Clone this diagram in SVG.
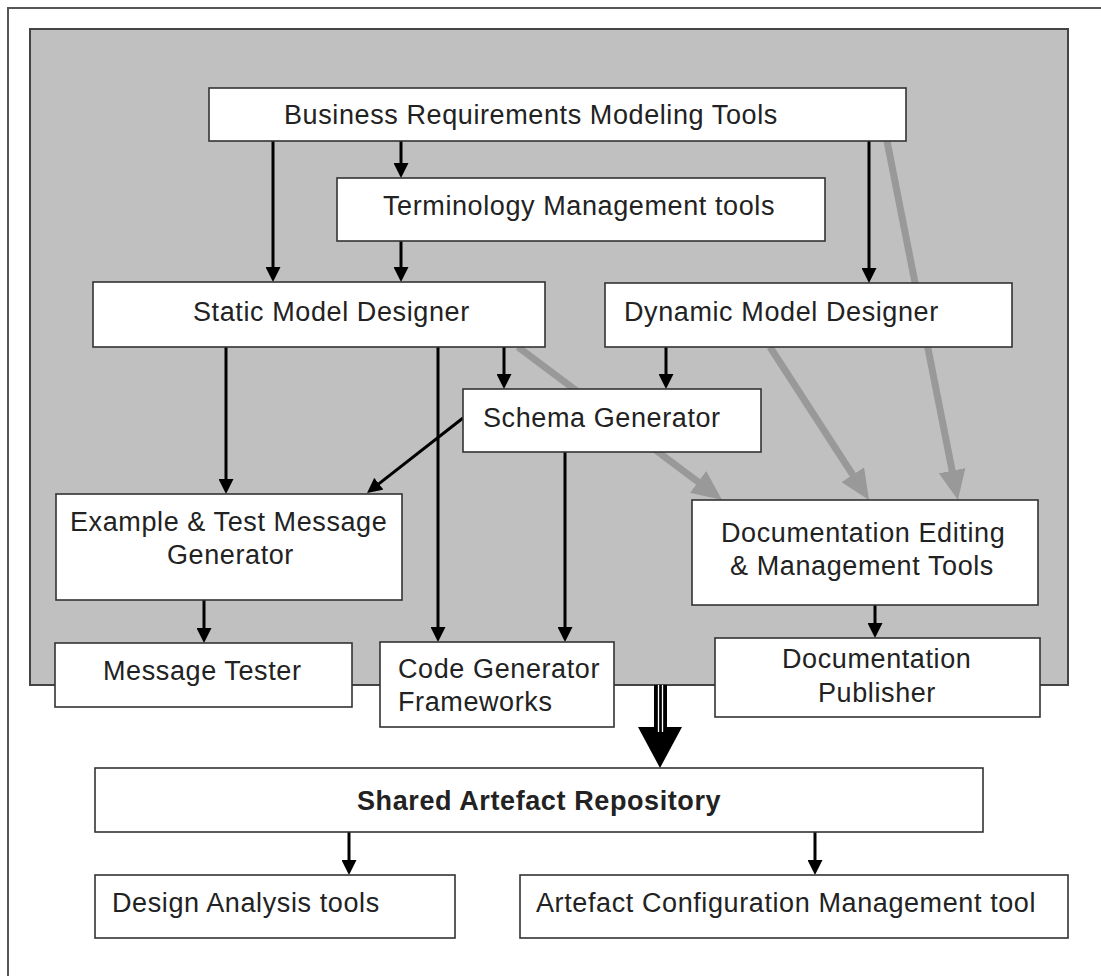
<svg xmlns="http://www.w3.org/2000/svg" width="1101" height="976" viewBox="0 0 1101 976">
<defs>
<style>
.box{fill:#fff;stroke:#333;stroke-width:1.6}
.t{font-family:"Liberation Sans",Arial,sans-serif;font-size:27px;letter-spacing:0.6px;fill:#222}
.b{font-weight:bold}
.a{fill:none;stroke:#000;stroke-width:3;marker-end:url(#ah)}
.g{fill:none;stroke:#999;stroke-width:7;marker-end:url(#gh)}
</style>
<marker id="ah" viewBox="0 0 15 15" refX="3" refY="7.5" markerWidth="15" markerHeight="15" markerUnits="userSpaceOnUse" orient="auto">
<path d="M0,0 L15,7.5 L0,15 z" fill="#000"/>
</marker>
<marker id="gh" viewBox="0 0 30 27" refX="6" refY="13.5" markerWidth="30" markerHeight="27" markerUnits="userSpaceOnUse" orient="auto">
<path d="M0,0 L30,13.5 L0,27 z" fill="#999"/>
</marker>
</defs>
<rect x="0" y="0" width="1101" height="976" fill="#fff"/>
<rect x="8" y="8" width="1300" height="1300" fill="none" stroke="#555" stroke-width="2"/>
<rect id="panel" x="30" y="29" width="1038" height="656" fill="#c0c0c0" stroke="#444" stroke-width="2"/>

<g id="connectors">
<line class="g" x1="518" y1="347" x2="702.9" y2="485.5"/>
<line class="g" x1="770" y1="347" x2="856" y2="479.8"/>
<line class="g" x1="887" y1="141" x2="953.3" y2="476.5"/>
<line class="a" x1="273" y1="141" x2="273" y2="270"/>
<line class="a" x1="401" y1="141" x2="401" y2="166"/>
<line class="a" x1="401" y1="241" x2="401" y2="270"/>
<line class="a" x1="869" y1="141" x2="869" y2="271"/>
<line class="a" x1="226" y1="347" x2="226" y2="482"/>
<line class="a" x1="438" y1="347" x2="438" y2="630"/>
<line class="a" x1="504" y1="347" x2="504" y2="377"/>
<line class="a" x1="666" y1="347" x2="666" y2="377"/>
<line class="a" x1="463" y1="418" x2="376.5" y2="485.6"/>
<line class="a" x1="565" y1="452" x2="565" y2="630"/>
<line class="a" x1="204" y1="600" x2="204" y2="631"/>
<line class="a" x1="875" y1="605" x2="875" y2="626"/>
<line class="a" x1="349" y1="832" x2="349" y2="863"/>
<line class="a" x1="815" y1="832" x2="815" y2="863"/>
<g id="bigarrow">
<rect x="654" y="685" width="13" height="43" fill="#000"/>
<line x1="658.5" y1="685" x2="658.5" y2="732" stroke="#fff" stroke-width="1.3"/>
<line x1="662.5" y1="685" x2="662.5" y2="732" stroke="#fff" stroke-width="1.3"/>
<path d="M638,727 L682,727 L660,768 z" fill="#000"/>
<line x1="658.5" y1="727" x2="658.5" y2="732" stroke="#fff" stroke-width="1.3"/>
<line x1="662.5" y1="727" x2="662.5" y2="732" stroke="#fff" stroke-width="1.3"/>
</g>
</g>

<g id="business">
<rect class="box" x="209" y="88" width="697" height="53"/>
<text class="t" x="284" y="124">Business Requirements Modeling Tools</text>
</g>
<g id="terminology">
<rect class="box" x="337" y="178" width="488" height="63"/>
<text class="t" x="383" y="215">Terminology Management tools</text>
</g>
<g id="static">
<rect class="box" x="93" y="282" width="452" height="65"/>
<text class="t" x="193" y="321">Static Model Designer</text>
</g>
<g id="dynamic">
<rect class="box" x="605" y="283" width="407" height="64"/>
<text class="t" x="624" y="321">Dynamic Model Designer</text>
</g>
<g id="schema">
<rect class="box" x="463" y="389" width="298" height="63"/>
<text class="t" x="483" y="427">Schema Generator</text>
</g>
<g id="example">
<rect class="box" x="56" y="494" width="346" height="106"/>
<text class="t" x="70" y="531">Example &amp; Test Message</text>
<text class="t" x="167" y="564">Generator</text>
</g>
<g id="docedit">
<rect class="box" x="692" y="500" width="346" height="105"/>
<text class="t" x="721" y="542">Documentation Editing</text>
<text class="t" x="730" y="575">&amp; Management Tools</text>
</g>
<g id="tester">
<rect class="box" x="55" y="643" width="297" height="64"/>
<text class="t" x="103" y="680">Message Tester</text>
</g>
<g id="codegen">
<rect class="box" x="380" y="642" width="234" height="85"/>
<text class="t" x="398" y="678">Code Generator</text>
<text class="t" x="398" y="711">Frameworks</text>
</g>
<g id="publisher">
<rect class="box" x="715" y="638" width="325" height="79"/>
<text class="t" x="782" y="668">Documentation</text>
<text class="t" x="818" y="702">Publisher</text>
</g>
<g id="repository">
<rect class="box" x="95" y="768" width="888" height="64"/>
<text class="t b" x="357" y="810">Shared Artefact Repository</text>
</g>
<g id="design">
<rect class="box" x="95" y="875" width="360" height="63"/>
<text class="t" x="112" y="912">Design Analysis tools</text>
</g>
<g id="artefact">
<rect class="box" x="520" y="875" width="548" height="63"/>
<text class="t" x="536" y="912">Artefact Configuration Management tool</text>
</g>
</svg>
